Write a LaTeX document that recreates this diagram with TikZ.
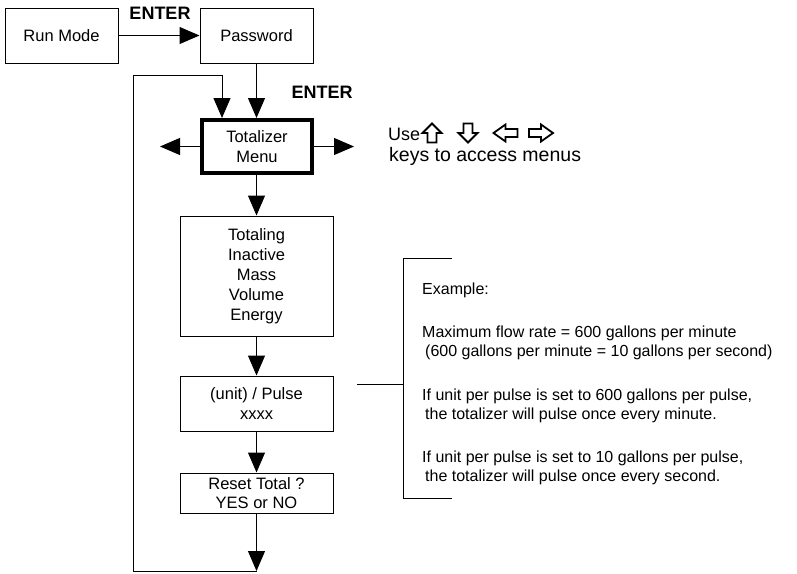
\documentclass[tikz,border=0pt]{standalone}
\usepackage{fontspec}
\setmainfont{Liberation Sans}
\usetikzlibrary{positioning,arrows.meta,calc}

\tikzset{
  box/.style={draw, line width=1pt, minimum width=113pt, minimum height=55pt,
    inner sep=0pt, align=center},
  widebox/.style={box, minimum width=153pt},
  flow/.style={-{Triangle[length=20pt,width=17pt]}, line width=1pt},
  plain/.style={line width=1pt},
  keyline/.style={draw, line width=1.8pt, line join=miter},
  keyup/.pic={\path[keyline] (0,-9.5) -- (9.5,0) -- (4.5,0) -- (4.5,9.5)
    -- (-4.5,9.5) -- (-4.5,0) -- (-9.5,0) -- cycle;},
  keyleft/.pic={\path[keyline] (-12,0) -- (0,-8.5) -- (0,-4) -- (12,-4)
    -- (12,4) -- (0,4) -- (0,8.5) -- cycle;},
}

\begin{document}
\begin{tikzpicture}[x=1pt, y=-1pt, font=\fontsize{16.5}{20}\selectfont]
  \useasboundingbox (0,0) rectangle (797,573);
  % main column
  \node[box] (run) at (61.5,35.5) {Run Mode};
  \node[box] (pass) at (256.5,35.5) {Password};
  \node[box, line width=4pt, minimum width=110pt, minimum height=53pt] (menu)
    at (257,146.5) {Totalizer\\Menu};
  \node[widebox, minimum height=120pt] (total) at (256.5,276)
    {Totaling\\Inactive\\Mass\\Volume\\Energy};
  \node[widebox] (unit) at (256.5,403.5) {(unit) / Pulse\\xxxx};
  \node[widebox, minimum height=40pt, font=\fontsize{16.5}{19}\selectfont] (reset)
    at (256.5,493) {Reset Total ?\\YES or NO};
  \node[font=\bfseries\fontsize{18}{20}\selectfont] (enterA) at (160,13) {ENTER};
  \node[font=\bfseries\fontsize{18}{20}\selectfont] (enterB) at (322,92) {ENTER};

  % free ends
  \coordinate (mleft) at (160,146.5);
  \coordinate (mright) at (354,146.5);
  \coordinate (loopend) at (256.5,571);
  \coordinate (loopbl) at (133,571);
  \coordinate (looptl) at (133,75);
  \coordinate (looptr) at (222,75);

  \draw[flow] (run) -- (pass);
  \draw[flow] (pass) -- (pass |- menu.north);
  \draw[flow] (menu.west) -- (mleft);
  \draw[flow] (menu.east) -- (mright);
  \draw[flow] (menu.south -| total.north) -- (total);
  \draw[flow] (total) -- (unit);
  \draw[flow] (unit) -- (reset);
  \draw[flow] (reset) -- (loopend);
  \draw[flow] (loopend) -- (loopbl) -- (looptl) -- (looptr) -- (looptr |- menu.north);

  % key hint
  \node[anchor=base west, inner sep=0pt, font=\fontsize{18}{20}\selectfont] (use)
    at (388,140) {Use};
  \pic (kup) at (432,133) {keyup};
  \pic[rotate=180] (kdown) at (468,133) {keyup};
  \pic (kleft) at (505.5,133) {keyleft};
  \pic[rotate=180] (kright) at (541,133) {keyleft};
  \node[anchor=base west, inner sep=0pt, font=\fontsize{19.5}{20}\selectfont] (keys)
    at (389,161) {keys to access menus};

  % example bracket
  \coordinate (brtop) at (452,258);
  \coordinate (brtl) at (403,258);
  \coordinate (brbl) at (403,498);
  \coordinate (brbot) at (452,498);
  \coordinate (brmid) at (403,384);
  \coordinate (brfree) at (357,384);
  \draw[plain] (brtop) -- (brtl) -- (brbl) -- (brbot);
  \draw[plain] (brfree) -- (brmid);
  \node[anchor=north west, inner sep=0pt, align=left,
    font=\fontsize{16}{19}\selectfont] (example) at (422,283)
    {Example:\\[24pt]
     Maximum flow rate = 600 gallons per minute\\
     \hspace{3pt}(600 gallons per minute = 10 gallons per second)\\[25pt]
     If unit per pulse is set to 600 gallons per pulse,\\
     \hspace{3pt}the totalizer will pulse once every minute.\\[24pt]
     If unit per pulse is set to 10 gallons per pulse,\\
     \hspace{3pt}the totalizer will pulse once every second.};
\end{tikzpicture}
\end{document}
